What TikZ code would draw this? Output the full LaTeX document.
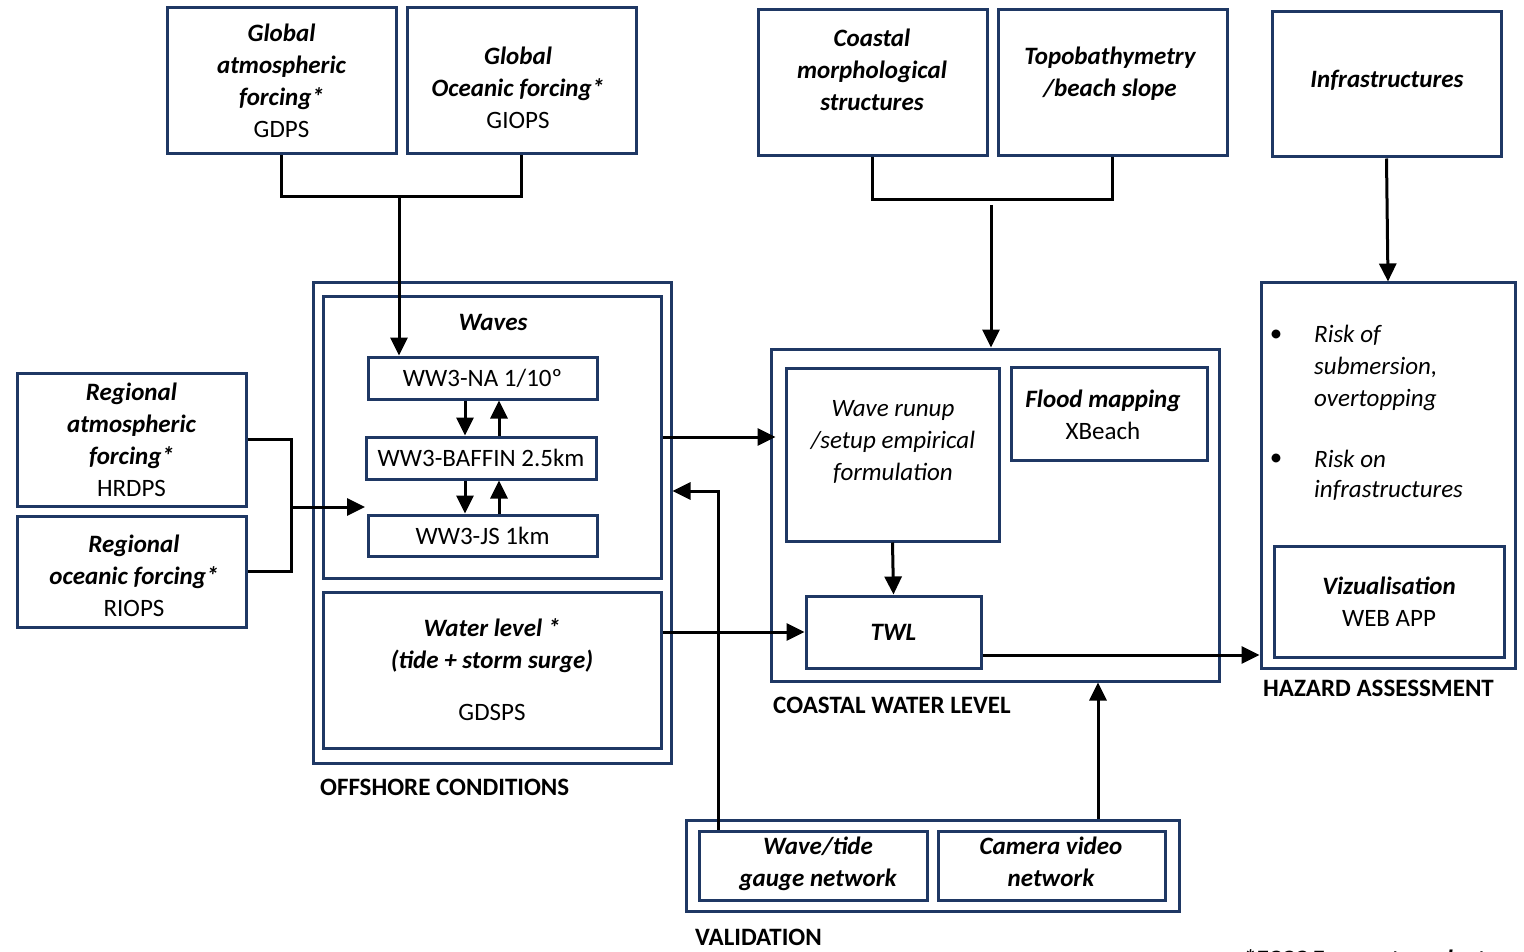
\documentclass[tikz,border=0pt]{standalone}
\usepackage{fontspec}
\setmainfont{Carlito}
\usetikzlibrary{arrows.meta}
\definecolor{bordo}{RGB}{31,56,100}
\newcommand{\ti}[1]{{\bfseries\itshape #1}}

\begin{document}
\begin{tikzpicture}[x=1pt,y=-1pt,
	every node/.style={font=\fontsize{25}{32}\selectfont},
	box/.style={draw=bordo,line width=3pt,align=center,inner sep=0pt},
	sz/.style 2 args={minimum width=#1pt,minimum height=#2pt},
	txt/.style={align=center,inner sep=0pt},
	lab/.style={anchor=west,inner sep=0pt,font=\fontsize{25}{32}\selectfont\bfseries},
	conn/.style={line width=3pt},
	arr/.style={line width=3pt,-{Triangle[length=18pt,width=17pt]}}]
	\useasboundingbox (0,0) rectangle (1524,952);
	% forzanti globali
	\node[box,sz={229}{146}] (gaf) at (281.5,81) {\ti{Global}\\\ti{atmospheric}\\\ti{forcing*}\\GDPS};
	\node[box,sz={229}{146}] (gof) at (521.5,81) {};
	\node[txt] (goft) at (518,88) {\ti{Global}\\\ti{Oceanic forcing*}\\GIOPS};
	% dati costieri
	\node[box,sz={229}{146}] (cms) at (872.5,83) {};
	\node[txt] (cmst) at (872,70) {\ti{Coastal}\\\ti{morphological}\\\ti{structures}};
	\node[box,sz={229}{146}] (topo) at (1112.5,83) {};
	\node[txt] (topot) at (1110,74) {\ti{Topobathymetry}\\\ti{/beach slope}};
	\node[box,sz={229}{145}] (infra) at (1386.5,84.5) {};
	\node[txt] (infrat) at (1387,80) {\ti{Infrastructures}};
	% forzanti regionali
	\node[box,sz={229}{133}] (raf) at (131.5,439.5) {\ti{Regional}\\\ti{atmospheric}\\\ti{forcing*}\\HRDPS};
	\node[box,sz={229}{111}] (rof) at (131.5,571.5) {};
	\node[txt] (roft) at (134,575.5) {\ti{Regional}\\\ti{oceanic forcing*}\\RIOPS};
	% condizioni al largo
	\node[box,sz={358}{480}] (offshore) at (492,523) {};
	\node[box,sz={338}{282}] (waves) at (492,437) {};
	\node[txt] (wavest) at (493,322) {\ti{Waves}};
	\node[box,sz={229}{42}] (na) at (482.5,378) {WW3-NA 1/10º};
	\node[box,sz={230}{42}] (baffin) at (481,458) {WW3-BAFFIN 2.5km};
	\node[box,sz={229}{41}] (js) at (482.5,535.5) {WW3-JS 1km};
	\node[box,sz={338}{156}] (wl) at (492,670) {\ti{Water level *}\\\ti{(tide + storm surge)}\\[20pt]GDSPS};
	\node[lab] (offl) at (320,787) {OFFSHORE CONDITIONS};
	% livello costiero
	\node[box,sz={448}{332}] (coastal) at (995,515) {};
	\node[box,sz={213}{173}] (runup) at (892.5,454.5) {};
	\node[txt,font=\fontsize{25}{32}\selectfont\itshape] (runupt) at (893,442) {Wave runup\\/setup empirical\\formulation};
	\node[box,sz={196}{93}] (flood) at (1109,413.5) {};
	\node[txt] (floodt) at (1103,415) {\ti{Flood mapping}\\XBeach};
	\node[box,sz={175}{72}] (twl) at (893.5,632) {\ti{TWL}};
	\node[lab] (coastl) at (773,705) {COASTAL WATER LEVEL};
	% rischio
	\node[box,sz={254}{385}] (hazard) at (1388,475.5) {};
	\node[txt] (b1) at (1276,336) {•};
	\node[txt,anchor=west,align=left,font=\fontsize{25}{32}\selectfont\itshape] (r1) at (1314,368) {Risk of\\submersion,\\overtopping};
	\node[txt] (b2) at (1276,460) {•};
	\node[txt,anchor=west,align=left,font=\fontsize{25}{30}\selectfont\itshape] (r2) at (1314,475) {Risk on\\infrastructures};
	\node[box,sz={230}{111}] (viz) at (1389,601.5) {\ti{Vizualisation}\\WEB APP};
	\node[lab] (hazl) at (1263,688) {HAZARD ASSESSMENT};
	% validazione
	\node[box,sz={493}{91}] (valid) at (932.5,865.5) {};
	\node[box,sz={228}{69}] (gauge) at (813,865.5) {};
	\node[txt] (gauget) at (818,864) {\ti{Wave/tide}\\\ti{gauge network}};
	\node[box,sz={227}{69}] (camera) at (1051.5,865.5) {};
	\node[txt] (camerat) at (1051,862) {\ti{Camera video}\\\ti{network}};
	\node[lab] (validl) at (695,937) {VALIDATION};
	\node[lab,anchor=base west,font=\fontsize{25}{32}\selectfont\bfseries\itshape] (nota) at (1243,967) {*ECCC Forecast products};
	% collegamenti
	\coordinate (gfork) at (399,197);
	\coordinate (cfork) at (991,200);
	\coordinate (rfork) at (291,507);
	\coordinate (jsin) at (365,507);
	\draw[conn] (gaf.south) |- (gfork) -| (gof.south);
	\draw[arr] (gfork) -- (gfork |- na.north);
	\draw[conn] (cms.south) |- (cfork) -| (topo.south);
	\draw[arr] ([yshift=-5pt]cfork) -- (cfork |- coastal.north);
	\draw[arr] (infra.south) -- (hazard.north);
	\draw[conn] (raf.east) -| (rfork) |- (rof.east);
	\draw[arr] (rfork) -- (jsin);
	\draw[arr] ([xshift=-17.5pt]na.south) -- ([xshift=-16pt]baffin.north);
	\draw[arr] ([xshift=18pt]baffin.north) -- ([xshift=16.5pt]na.south);
	\draw[arr] ([xshift=-16pt]baffin.south) -- ([xshift=-17.5pt]js.north);
	\draw[arr] ([xshift=16.5pt]js.north) -- ([xshift=18pt]baffin.south);
	\draw[arr] (waves.east) -- ([xshift=6pt]waves.east -| coastal.west);
	\draw[arr] (twl.west -| wl.east) -- (twl.west);
	\draw[arr] (runup.south) -- (twl.north);
	\draw[arr] ([yshift=-23pt]twl.east) -- ([yshift=-23pt]twl.east -| hazard.west);
	\draw[arr] ([xshift=-95pt]gauge.north) |- ([yshift=32pt]offshore.east);
	\draw[arr] ([xshift=165.5pt]valid.north) -- ([xshift=165.5pt]valid.north |- coastal.south);
\end{tikzpicture}
\end{document}
